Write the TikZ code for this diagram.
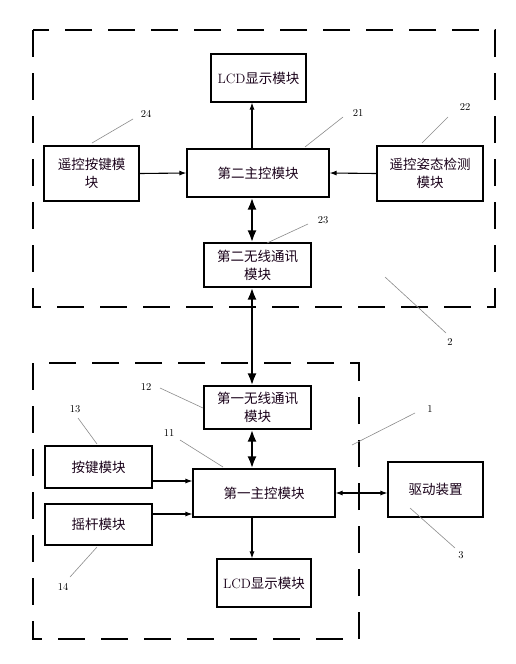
\documentclass[tikz,border=0pt]{standalone}
\usepackage{fontspec}
\newfontfamily\cjk{Noto Sans CJK SC}
\usetikzlibrary{arrows.meta}
\begin{document}
\begin{tikzpicture}[x=1pt,y=-1pt,
  box/.style={draw=black,line width=1.1pt,inner sep=1pt,align=center,font=\cjk\fontsize{13.5}{18}\selectfont,text=black!80!violet},
  arr/.style={line width=1.1pt,-{Latex[length=7pt,width=5pt]}},
  barr/.style={line width=1.1pt,{Latex[length=7pt,width=5pt]}-{Latex[length=7pt,width=5pt]}},
  thick2/.style={line width=2.6pt,{Latex[length=12pt,width=9pt]}-{Latex[length=12pt,width=9pt]}},
  frame/.style={line width=1.6pt,dash pattern=on 27pt off 16pt},
  lead/.style={draw=black!45,line width=0.6pt},
  num/.style={font=\fontsize{10.5}{10.5}\selectfont,inner sep=1pt}]
\useasboundingbox (0,0) rectangle (516,664);
\fill[white] (0,0) rectangle (516,664);
% frames
\draw[frame] (33,30) rectangle (495,307);
\draw[frame] (33,363) rectangle (359,639);
% boxes
\node[box,minimum width=95pt,minimum height=48pt] (lcd2) at (258.5,78) {{\rmfamily LCD}显示模块};
\node[box,minimum width=95pt,minimum height=55pt] (key2) at (91.5,173.5) {遥控按键模\\块};
\node[box,minimum width=142pt,minimum height=48pt] (main2) at (258,173) {第二主控模块};
\node[box,minimum width=106pt,minimum height=55pt] (att) at (430,173.5) {遥控姿态检测\\模块};
\node[box,minimum width=107pt,minimum height=44pt] (wl2) at (257.5,265) {第二无线通讯\\模块};
\node[box,minimum width=107pt,minimum height=43pt] (wl1) at (257.5,407.5) {第一无线通讯\\模块};
\node[box,minimum width=107pt,minimum height=42pt] (key1) at (98.5,467) {按键模块};
\node[box,minimum width=107pt,minimum height=41pt] (joy) at (98.5,524.5) {摇杆模块};
\node[box,minimum width=142pt,minimum height=48pt] (main1) at (264,493) {第一主控模块};
\node[box,minimum width=95pt,minimum height=55pt] (drv) at (435.5,489.5) {驱动装置};
\node[box,minimum width=94pt,minimum height=48pt] (lcd1) at (264,583) {{\rmfamily LCD}显示模块};
% helper coordinates
\coordinate (sp) at (252,0);
\coordinate (yk) at (0,481);
\coordinate (yj) at (0,514);
\coordinate (yd) at (0,493);
% connectors
\draw[arr] (main2.north -| sp) -- (lcd2.south -| sp);
\draw[arr] (key2.east) -- (main2.west);
\draw[arr] (att.west) -- (main2.east);
\draw[thick2] (main2.south -| sp) -- (wl2.north -| sp);
\draw[thick2] (wl2.south -| sp) -- (wl1.north -| sp);
\draw[thick2] (wl1.south -| sp) -- (main1.north -| sp);
\draw[arr] (key1.east |- yk) -- (main1.west |- yk);
\draw[arr] (joy.east |- yj) -- (main1.west |- yj);
\draw[barr] (main1.east |- yd) -- (drv.west |- yd);
\draw[arr] (main1.south -| sp) -- (lcd1.north -| sp);
% labels
\node[num] (n24) at (146,114) {24};
\node[num] (n21) at (358,113) {21};
\node[num] (n22) at (465,107) {22};
\node[num] (n23) at (323,220) {23};
\node[num] (n2) at (450,342) {2};
\node[num] (n12) at (146,387) {12};
\node[num] (n13) at (75,409) {13};
\node[num] (n11) at (169,433) {11};
\node[num] (n1) at (430,409) {1};
\node[num] (n3) at (461,555) {3};
\node[num] (n14) at (63,587) {14};
\coordinate (e24) at (92,143);
\coordinate (e21) at (305,147);
\coordinate (e22) at (422,143);
\coordinate (e23) at (267,243);
\coordinate (e2) at (385,277);
\coordinate (e12) at (203,408);
\coordinate (e13) at (97,444);
\coordinate (e11) at (223,467);
\coordinate (e1) at (352,445);
\coordinate (e3) at (410,508);
\coordinate (e14) at (97,547);
\draw[lead] (e24) -- (133,119);
\draw[lead] (e21) -- (343,117);
\draw[lead] (e22) -- (448,117);
\draw[lead] (e23) -- (308,224);
\draw[lead] (e2) -- (446,333);
\draw[lead] (e12) -- (160,388);
\draw[lead] (e13) -- (78,418);
\draw[lead] (e11) -- (180,440);
\draw[lead] (e1) -- (415,413);
\draw[lead] (e3) -- (455,548);
\draw[lead] (e14) -- (70,577);
\end{tikzpicture}
\end{document}
